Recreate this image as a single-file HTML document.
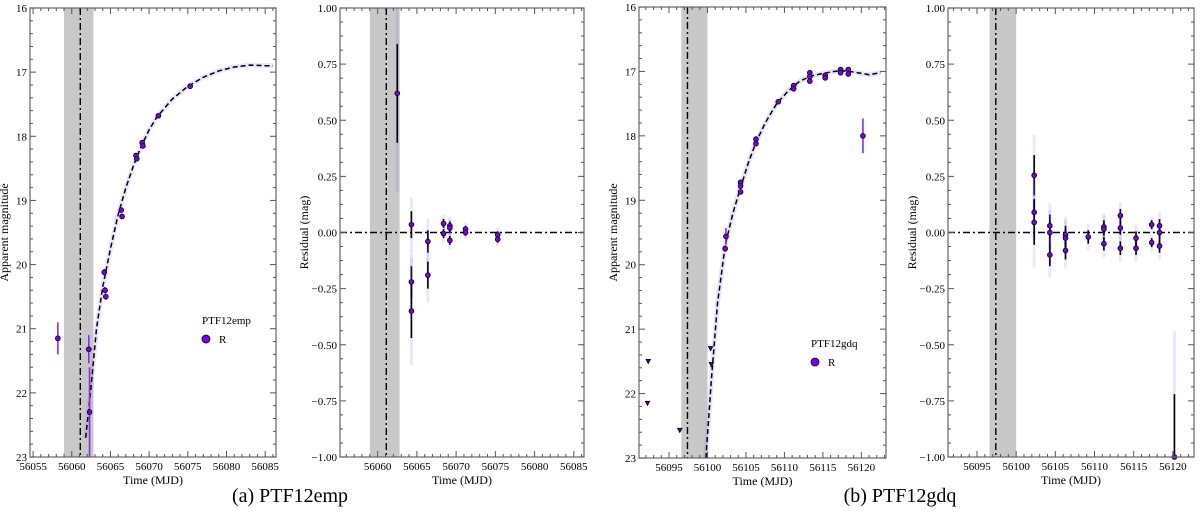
<!DOCTYPE html>
<html><head><meta charset="utf-8">
<style>
html,body{margin:0;padding:0;background:#fff;overflow:hidden;width:1200px;height:528px;}
svg{display:block;}
text{font-family:"Liberation Serif","DejaVu Serif",serif;}
</style></head>
<body>
<svg id="fig" width="1200" height="528" viewBox="0 0 1200 528" xmlns="http://www.w3.org/2000/svg" font-family="Liberation Serif, serif">
<text x="290" y="502" font-size="20" text-anchor="middle" font-family="Liberation Serif, serif">(a) PTF12emp</text>
<text x="900" y="502" font-size="20" text-anchor="middle" font-family="Liberation Serif, serif">(b) PTF12gdq</text>
</svg>
<script>
// ---- Data: PTF12emp light curve
const empT = [56058.2,56062.2,56062.3,56064.2,56064.3,56064.4,56066.4,56066.5,56068.3,56068.4,56069.1,56069.2,56071.2,56075.3];
const empMag = [21.15,21.32,22.3,20.12,20.4,20.5,19.15,19.25,18.3,18.35,18.1,18.15,17.68,17.22];
const empErr = [0.25,0.22,0.7,0.05,0.05,0.05,0.04,0.04,0.03,0.03,0.03,0.03,0.02,0.02];
const empModelT = [56061.8,56062.5,56063.2,56064,56065,56066,56067,56068,56069,56070,56071,56073,56075,56077,56079,56081,56083,56085,56086];
const empModelM = [22.7,21.9,21.0,20.35,19.75,19.22,18.8,18.45,18.15,17.9,17.7,17.42,17.22,17.08,16.98,16.92,16.89,16.9,16.9];
// PTF12emp residuals
const empRT = [56062.5,56064.3,56064.3,56064.3,56066.4,56066.4,56068.4,56068.4,56069.2,56069.2,56069.2,56071.2,56071.2,56075.3,56075.3];
const empRV = [0.62,0.035,-0.22,-0.35,-0.04,-0.19,0.04,-0.005,0.03,0.02,-0.035,0.015,0.0,-0.01,-0.03];
const empRE = [0.22,0.06,0.07,0.12,0.05,0.06,0.02,0.02,0.02,0.02,0.02,0.015,0.015,0.015,0.015];
// PTF12gdq light curve
const gdqT = [56102.4,56102.3,56104.3,56104.3,56104.3,56106.3,56106.3,56109.2,56111.2,56111.2,56113.3,56113.3,56113.3,56115.3,56115.3,56117.3,56117.3,56118.3,56118.3,56120.2];
const gdqMag = [19.56,19.75,18.72,18.78,18.87,18.05,18.12,17.47,17.22,17.27,17.02,17.08,17.15,17.06,17.1,16.97,17.02,16.97,17.04,18.0];
const gdqErr = [0.13,0.05,0.03,0.03,0.03,0.02,0.02,0.02,0.02,0.02,0.02,0.02,0.02,0.02,0.02,0.02,0.02,0.02,0.02,0.27];
const gdqLimT = [56092.3,56092.2,56096.4,56100.4,56100.5];
const gdqLimM = [21.5,22.15,22.57,21.3,21.55];
const gdqModelT = [56099.8,56100.5,56101.3,56102.3,56103.3,56104.3,56105.3,56106.3,56107.5,56109,56110.5,56112,56113.5,56115,56116.5,56118,56119.5,56121,56122.5];
const gdqModelM = [23.0,21.8,20.6,19.7,19.2,18.8,18.42,18.1,17.8,17.5,17.3,17.15,17.07,17.03,17.0,16.99,17.02,17.05,17.02];
// PTF12gdq residuals
const gdqRT = [56102.3,56102.3,56102.3,56104.3,56104.3,56104.3,56106.3,56106.3,56106.3,56109.2,56111.2,56111.2,56111.2,56113.3,56113.3,56113.3,56115.3,56115.3,56117.3,56117.3,56118.3,56118.3,56118.3,56120.2];
const gdqRV = [0.255,0.09,0.045,0.03,0.0,-0.1,-0.01,-0.025,-0.08,-0.02,0.025,0.015,-0.05,0.075,0.02,-0.07,-0.025,-0.07,0.035,-0.045,0.03,0.0,-0.06,-1.0];
const gdqRE = [0.09,0.06,0.1,0.05,0.05,0.05,0.04,0.04,0.04,0.03,0.03,0.03,0.03,0.03,0.03,0.03,0.03,0.03,0.02,0.02,0.03,0.03,0.03,0.28];
const magTicks = [16,17,18,19,20,21,22,23];
const resTicks = [1.0,0.75,0.5,0.25,0.0,-0.25,-0.5,-0.75,-1.0];
const resLabels = ["1.00","0.75","0.50","0.25","0.00","\u22120.25","\u22120.50","\u22120.75","\u22121.00"];

const NS="http://www.w3.org/2000/svg";
const svg=document.getElementById('fig');
const FF='Liberation Serif, serif';
function mk(tag,attrs,parent){const e=document.createElementNS(NS,tag);for(const k in attrs)e.setAttribute(k,attrs[k]);if(tag==='text')e.setAttribute('font-family',FF);(parent||svg).appendChild(e);return e;}
let clipN=0;
function panel(cfg){
  const g=mk('g',{});
  
  
  const {x0,x1,y0,y1,t0,t1,v0,v1}=cfg;
  const X=t=>x0+(t-t0)/(t1-t0)*(x1-x0);
  const Y=v=>y0+(v-v0)/(v1-v0)*(y1-y0);
  const cid='clip'+(clipN++);
  const cp=mk('clipPath',{id:cid},g);mk('rect',{x:x0,y:y0,width:x1-x0,height:y1-y0},cp);
  const inner=mk('g',{'clip-path':`url(#${cid})`},g);
  const band=mk('rect',{x:X(cfg.band[0]),y:y0,width:X(cfg.band[1])-X(cfg.band[0]),height:y1-y0,fill:'#c8c8c8'},inner);
  
  
  const vl=mk('line',{x1:X(cfg.vline),x2:X(cfg.vline),y1:y0,y2:y1,stroke:'#000','stroke-width':1.4,'stroke-dasharray':'7,3,2,3'},inner);
  
  
  if(cfg.zero){
    const zl=mk('line',{x1:x0,x2:x1,y1:Y(0),y2:Y(0),stroke:'#000','stroke-width':1.4,'stroke-dasharray':'7,3,2,3'},inner);
    
    
  }
  if(cfg.mt){
    let d='';cfg.mt.forEach((t,i)=>{d+=(i?'L':'M')+X(t).toFixed(1)+','+Y(cfg.mm[i]).toFixed(1);});
    const mb=mk('path',{d:d,fill:'none',stroke:cfg.bandCol,'stroke-width':5,'stroke-opacity':0.18},inner);
    
    
    const ml=mk('path',{d:d,fill:'none',stroke:'#000','stroke-width':1.5,'stroke-dasharray':'5,3'},inner);
    
    
  }
  if(cfg.lt){cfg.lt.forEach((t,i)=>{
    const x=X(t),y=Y(cfg.lm[i]);
    const p=mk('path',{d:`M${x-2.2},${y-2} L${x+2.2},${y-2} L${x},${y+2.2}Z`,fill:'#5a00b0',stroke:'#000','stroke-width':0.8},inner);
    
    
  });}
  cfg.pt.forEach((t,i)=>{
    const x=X(t),v=cfg.pv[i],e=cfg.pe[i];
    if(cfg.resid){
      const gl=mk('rect',{x:x-1.5,y:Y(v+e*2),width:3,height:Math.max(0,Y(v-e*2)-Y(v+e*2)),fill:'#7a5cff',opacity:0.15},inner);
      
      
    }
    const eb=mk('line',{x1:x,x2:x,y1:Y(v+e),y2:Y(v-e),stroke:cfg.resid?'#000':'#8a2be2','stroke-width':1.6},inner);
    
    
    const c=mk('circle',{cx:x,cy:Y(v),r:2.4,fill:'#7a00e6',stroke:'#000','stroke-width':0.8},g);
    
    
  });
  const fr=mk('rect',{x:x0,y:y0,width:x1-x0,height:y1-y0,fill:'none',stroke:'#666','stroke-width':1.2},g);
  
  
  for(let t=Math.ceil(t0);t<=t1;t++){
    const x=X(t),maj=(t%5===0),L=maj?6:3;
    mk('line',{x1:x,x2:x,y1:y1,y2:y1-L,stroke:'#555','stroke-width':1},g);
    mk('line',{x1:x,x2:x,y1:y0,y2:y0+L,stroke:'#555','stroke-width':1},g);
    if(maj){const tx=mk('text',{x:x,y:y1+13,'font-size':11,'text-anchor':'middle'},g);tx.textContent=t;
      
      }
  }
  const minorN=cfg.resid?4:5;
  cfg.yt.forEach((v,i)=>{
    const y=Y(v);
    mk('line',{x1:x0,x2:x0+6,y1:y,y2:y,stroke:'#555'},g);
    mk('line',{x1:x1,x2:x1-6,y1:y,y2:y,stroke:'#555'},g);
    const tx=mk('text',{x:x0-3,y:y+4,'font-size':11,'text-anchor':'end'},g);tx.textContent=cfg.yl[i];
    
    
    if(i<cfg.yt.length-1){const st=(cfg.yt[i+1]-v)/minorN;for(let k=1;k<minorN;k++){const yy=Y(v+st*k);
      mk('line',{x1:x0,x2:x0+3,y1:yy,y2:yy,stroke:'#555'},g);mk('line',{x1:x1,x2:x1-3,y1:yy,y2:yy,stroke:'#555'},g);}}
  });
  const xt=mk('text',{x:(x0+x1)/2,y:y1+27,'font-size':12,'text-anchor':'middle'},g);xt.textContent='Time (MJD)';
  
  
  const yx=x0-cfg.ytOff,yy=(y0+y1)/2;
  const yti=mk('text',{x:yx,y:yy,'font-size':12,'text-anchor':'middle',transform:`rotate(-90 ${yx} ${yy})`},g);yti.textContent=cfg.ytitle;
  
  
  if(cfg.leg){
    const lg=mk('g',{},g);
    
    
    const lt=mk('text',{x:cfg.leg[0],y:cfg.leg[1],'font-size':11},lg);lt.textContent=cfg.legName;
    mk('circle',{cx:cfg.leg[0]+4,cy:cfg.leg[1]+15,r:4,fill:'#7a00e6',stroke:'#000','stroke-width':0.8},lg);
    const lr=mk('text',{x:cfg.leg[0]+17,y:cfg.leg[1]+19,'font-size':11},lg);lr.textContent='R';
  }
}
const magLabels=magTicks.map(String);
panel({name:'ptf12emp-lightcurve',x0:30,x1:276,y0:8,y1:457,t0:56054.6,t1:56086.4,v0:16,v1:23,band:[56059.0,56062.8],vline:56061.1,
  mt:empModelT,mm:empModelM,bandCol:'#9b6cff',pt:empT,pv:empMag,pe:empErr,yt:magTicks,yl:magLabels,ytitle:'Apparent magnitude',ytOff:22,leg:[202,324],legName:'PTF12emp'});
panel({name:'ptf12emp-residuals',x0:340,x1:584,y0:8,y1:457,t0:56055.2,t1:56086.3,v0:1,v1:-1,band:[56059.0,56062.8],vline:56061.1,zero:true,resid:true,
  pt:empRT,pv:empRV,pe:empRE,yt:resTicks,yl:resLabels,ytitle:'Residual (mag)',ytOff:32});
panel({name:'ptf12gdq-lightcurve',x0:639,x1:886,y0:7,y1:458,t0:56091.1,t1:56123.2,v0:16,v1:23,band:[56096.6,56100.0],vline:56097.4,
  mt:gdqModelT,mm:gdqModelM,bandCol:'#6a6cff',lt:gdqLimT,lm:gdqLimM,pt:gdqT,pv:gdqMag,pe:gdqErr,yt:magTicks,yl:magLabels,ytitle:'Apparent magnitude',ytOff:22,leg:[811,347],legName:'PTF12gdq'});
panel({name:'ptf12gdq-residuals',x0:948,x1:1194,y0:8,y1:457,t0:56091.3,t1:56122.7,v0:1,v1:-1,band:[56096.6,56100.0],vline:56097.4,zero:true,resid:true,
  pt:gdqRT,pv:gdqRV,pe:gdqRE,yt:resTicks,yl:resLabels,ytitle:'Residual (mag)',ytOff:32});
</script>
</body></html>
